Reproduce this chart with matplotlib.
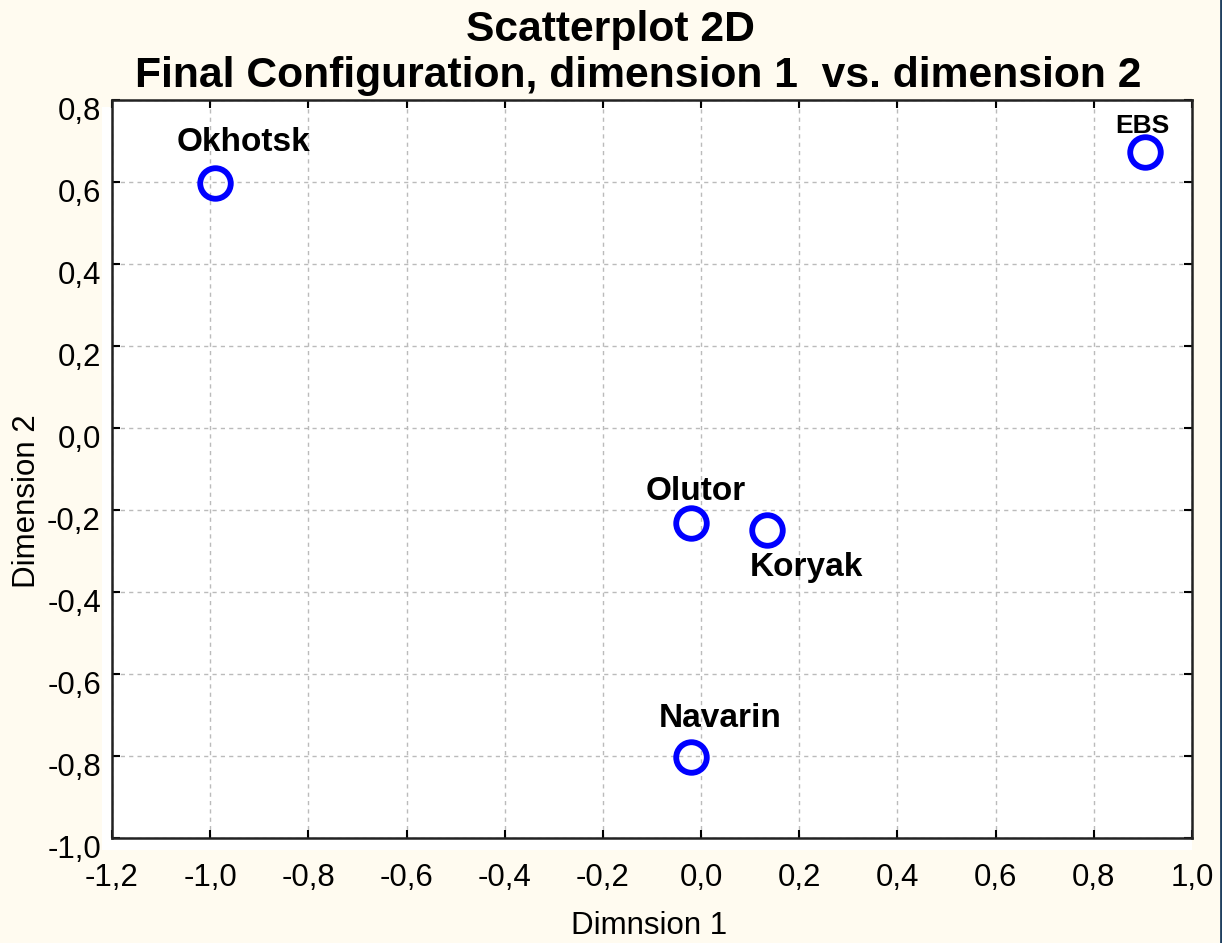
import matplotlib
matplotlib.use("Agg")
import matplotlib.pyplot as plt
from matplotlib.patches import Rectangle
from matplotlib.lines import Line2D
from matplotlib.transforms import ScaledTranslation

# MDS final configuration
names = ["Okhotsk", "EBS", "Olutor", "Koryak", "Navarin"]
dim1 = [-0.99, 0.905, -0.02, 0.135, -0.02]
dim2 = [0.598, 0.672, -0.232, -0.248, -0.802]

xticks = [-1.2, -1.0, -0.8, -0.6, -0.4, -0.2, 0.0, 0.2, 0.4, 0.6, 0.8, 1.0]
yticks = [-1.0, -0.8, -0.6, -0.4, -0.2, 0.0, 0.2, 0.4, 0.6, 0.8]

# label offsets in pixels and font sizes
offsets = {"Okhotsk": (28, 40), "EBS": (-3, 26), "Olutor": (4, 32),
           "Koryak": (39, -38), "Navarin": (29, 38)}
sizes = {"EBS": 19}

plt.rcParams['font.family'] = ['Liberation Sans', 'DejaVu Sans']

fig = plt.figure(figsize=(12.22, 9.43), dpi=100, facecolor="#FFFBF0")
W, H = 1222, 943

# white backdrop slightly larger than the axes
fig.patches.append(Rectangle((102 / W, 1 - 850 / H), (1192 - 102) / W, (850 - 107) / H,
                             transform=fig.transFigure, facecolor="white",
                             edgecolor="none", zorder=-5))
fig.lines.append(Line2D([1 - 1.5 / W, 1 - 1.5 / W], [0, 1], transform=fig.transFigure,
                        color="#1F3F5F", linewidth=2))

ax = fig.add_axes([112 / W, 1 - 838 / H, (1192 - 112) / W, (838 - 100) / H])
ax.set_zorder(2)
ax.set_facecolor("white")

ax.plot(dim1, dim2, linestyle="none", marker="o", markersize=22,
        markerfacecolor="none", markeredgecolor="#0000FF", markeredgewidth=4.2,
        zorder=3, clip_on=False)

for n, x, y in zip(names, dim1, dim2):
    dx, dy = offsets[n]
    ax.annotate(n, (x, y), xytext=(dx, dy), textcoords="offset pixels",
                ha="center", va="center", fontsize=sizes.get(n, 24),
                fontweight="bold", color="black")

ax.set_xlim(-1.2, 1.0)
ax.set_ylim(-1.0, 0.8)
ax.set_xticks(xticks)
ax.set_yticks(yticks)
ax.set_xticklabels([f"{t:.1f}".replace(".", ",") for t in xticks])
ax.set_yticklabels([f"{t:.1f}".replace(".", ",") for t in yticks])
ax.tick_params(direction="in", length=6, width=1.5, labelsize=22.5,
               top=True, right=True)
ax.tick_params(axis="x", pad=18)
ax.tick_params(axis="y", pad=8)
shift = ScaledTranslation(0, -8 / 100, fig.dpi_scale_trans)
for lab in ax.get_yticklabels():
    lab.set_transform(lab.get_transform() + shift)

ax.grid(True, linestyle=(0, (3, 3)), color="#BBBBBB", linewidth=1)
for s in ax.spines.values():
    s.set_linewidth(1.8)
    s.set_color("#222222")

ax.set_xlabel("Dimnsion 1", fontsize=22.5, va="center")
ax.xaxis.set_label_coords(0.497, -0.119)
ax.set_ylabel("Dimension 2", fontsize=22.5, va="center")
ax.yaxis.set_label_coords(-0.079, 0.457)

fig.text(610 / W, 1 - 30 / H, "Scatterplot 2D", ha="center", va="center",
         fontsize=30.7, fontweight="bold")
fig.text(638 / W, 1 - 76 / H, "Final Configuration, dimension 1  vs. dimension 2",
         ha="center", va="center", fontsize=30.7, fontweight="bold")

fig.savefig("out.png", dpi=100, facecolor=fig.get_facecolor())
